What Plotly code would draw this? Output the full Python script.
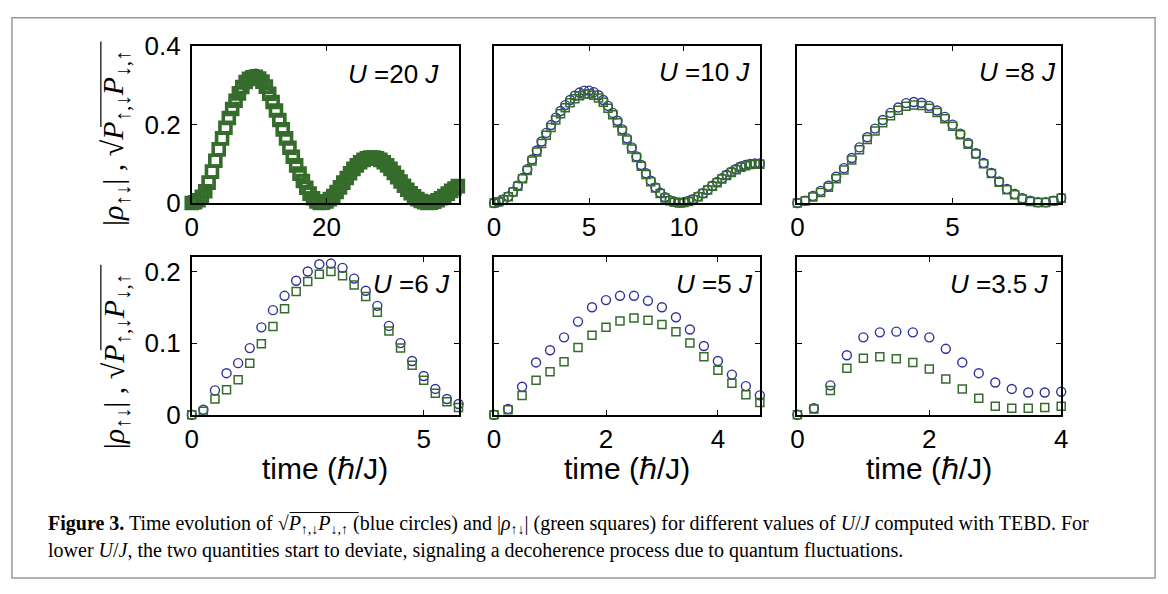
import plotly.graph_objects as go

W, H = 1168, 594

# ---------------- data ----------------
# U = 20 J  (dt = 0.5)
t20_step = 0.5
u20_sq = [0.000, 0.002, 0.007, 0.016, 0.030, 0.052, 0.080, 0.108, 0.137, 0.165,
          0.192, 0.217, 0.240, 0.261, 0.280, 0.296, 0.309, 0.317, 0.321, 0.322,
          0.318, 0.310, 0.297, 0.279, 0.258, 0.236, 0.212, 0.188, 0.165, 0.141,
          0.118, 0.096, 0.075, 0.056, 0.039, 0.024, 0.012, 0.004, 0.000, 0.001,
          0.004, 0.010, 0.018, 0.028, 0.040, 0.052, 0.064, 0.076, 0.087, 0.096,
          0.104, 0.110, 0.114, 0.116, 0.116, 0.114, 0.110, 0.104, 0.096, 0.087,
          0.077, 0.066, 0.055, 0.044, 0.034, 0.025, 0.017, 0.010, 0.005, 0.002,
          0.000, 0.001, 0.003, 0.007, 0.012, 0.018, 0.024, 0.031, 0.037, 0.043]
u20_ci = [0.000, 0.002, 0.007, 0.016, 0.030, 0.052, 0.080, 0.108, 0.137, 0.165,
          0.192, 0.217, 0.240, 0.261, 0.280, 0.297, 0.311, 0.320, 0.325, 0.326,
          0.322, 0.312, 0.298, 0.280, 0.259, 0.236, 0.212, 0.188, 0.165, 0.141,
          0.118, 0.096, 0.075, 0.056, 0.039, 0.024, 0.012, 0.004, 0.000, 0.001,
          0.004, 0.010, 0.018, 0.028, 0.040, 0.052, 0.064, 0.076, 0.087, 0.096,
          0.104, 0.110, 0.115, 0.117, 0.117, 0.115, 0.110, 0.104, 0.096, 0.087,
          0.077, 0.066, 0.055, 0.044, 0.034, 0.025, 0.017, 0.010, 0.005, 0.002,
          0.000, 0.001, 0.003, 0.007, 0.012, 0.018, 0.024, 0.031, 0.037, 0.043]

# U = 10 J  (dt = 0.25)
t10_step = 0.25
u10_ci = [0.000, 0.003, 0.009, 0.017, 0.029, 0.045, 0.064, 0.086,
          0.111, 0.134, 0.157, 0.179, 0.199, 0.218, 0.235, 0.250,
          0.263, 0.274, 0.282, 0.287, 0.287, 0.283, 0.275, 0.263,
          0.248, 0.230, 0.210, 0.188, 0.165, 0.142, 0.119, 0.097,
          0.076, 0.057, 0.040, 0.026, 0.015, 0.007, 0.003, 0.001,
          0.002, 0.005, 0.010, 0.017, 0.025, 0.034, 0.044, 0.054,
          0.063, 0.072, 0.080, 0.087, 0.093, 0.097, 0.100, 0.101, 0.101]
u10_sq = [0.000, 0.003, 0.008, 0.016, 0.028, 0.043, 0.062, 0.083,
          0.107, 0.130, 0.152, 0.173, 0.193, 0.212, 0.228, 0.243,
          0.256, 0.266, 0.274, 0.278, 0.279, 0.275, 0.268, 0.257,
          0.242, 0.225, 0.205, 0.184, 0.161, 0.138, 0.116, 0.094,
          0.073, 0.054, 0.038, 0.024, 0.013, 0.006, 0.002, 0.000,
          0.001, 0.004, 0.009, 0.016, 0.024, 0.033, 0.043, 0.052,
          0.061, 0.070, 0.078, 0.085, 0.091, 0.095, 0.098, 0.099, 0.099]

# U = 8 J  (dt = 0.25)
t8_step = 0.25
u8_ci = [0.000, 0.006, 0.018, 0.031, 0.044, 0.067, 0.089, 0.115, 0.142, 0.168,
         0.190, 0.212, 0.230, 0.244, 0.255, 0.258, 0.256, 0.248, 0.236, 0.220,
         0.200, 0.177, 0.153, 0.127, 0.102, 0.077, 0.055, 0.036, 0.023, 0.012,
         0.006, 0.002, 0.002, 0.006, 0.013]
u8_sq = [0.000, 0.005, 0.015, 0.027, 0.040, 0.062, 0.084, 0.110, 0.136, 0.162,
         0.184, 0.205, 0.223, 0.237, 0.247, 0.250, 0.249, 0.242, 0.231, 0.215,
         0.196, 0.174, 0.150, 0.125, 0.100, 0.075, 0.053, 0.034, 0.021, 0.010,
         0.004, 0.001, 0.001, 0.005, 0.012]

# U = 6 J  (dt = 0.25)
t6_step = 0.25
u6_ci = [0.000, 0.007, 0.034, 0.058, 0.072, 0.093, 0.122, 0.146, 0.166, 0.187,
         0.200, 0.210, 0.211, 0.205, 0.190, 0.173, 0.152, 0.124, 0.100, 0.075,
         0.054, 0.036, 0.022, 0.015]
u6_sq = [0.000, 0.005, 0.022, 0.035, 0.049, 0.072, 0.099, 0.123, 0.148, 0.172,
         0.186, 0.196, 0.200, 0.194, 0.181, 0.165, 0.143, 0.117, 0.093, 0.069,
         0.048, 0.030, 0.018, 0.010]

# U = 5 J  (dt = 0.25)
t5_step = 0.25
u5_ci = [0.000, 0.008, 0.039, 0.073, 0.090, 0.108, 0.130, 0.150, 0.160, 0.166,
         0.166, 0.159, 0.150, 0.136, 0.119, 0.096, 0.075, 0.056, 0.040, 0.027]
u5_sq = [0.000, 0.007, 0.027, 0.048, 0.060, 0.074, 0.094, 0.111, 0.122, 0.131,
         0.135, 0.132, 0.126, 0.116, 0.100, 0.081, 0.062, 0.044, 0.028, 0.017]

# U = 3.5 J  (dt = 0.25)
t35_step = 0.25
u35_ci = [0.000, 0.009, 0.041, 0.083, 0.108, 0.115, 0.116, 0.115, 0.108, 0.092,
          0.073, 0.058, 0.045, 0.036, 0.031, 0.031, 0.032]
u35_sq = [0.000, 0.008, 0.034, 0.065, 0.079, 0.081, 0.078, 0.073, 0.064, 0.050,
          0.036, 0.023, 0.012, 0.009, 0.009, 0.010, 0.012]

panel_labels = ["20", "10", "8", "6", "5", "3.5"]
x_ranges = [[0, 39.6], [0, 14], [0, 8.5], [0, 5.75], [0, 4.75], [0, 4]]
x_ticks = [[0, 20], [0, 5, 10], [0, 5], [0, 5], [0, 2, 4], [0, 2, 4]]
y_ticks_top = [0, 0.2, 0.4]
y_ticktext_top = ["0", "0.2", "0.4"]
y_ticks_bot = [0, 0.1, 0.2]
y_ticktext_bot = ["0", "0.1", "0.2"]

series = [
    (t20_step, u20_ci, u20_sq),
    (t10_step, u10_ci, u10_sq),
    (t8_step, u8_ci, u8_sq),
    (t6_step, u6_ci, u6_sq),
    (t5_step, u5_ci, u5_sq),
    (t35_step, u35_ci, u35_sq),
]

# ---------------- layout geometry (pixels) ----------------
col_px = [(187, 457), (493, 762), (800, 1067)]
row_px = [(33, 198), (255, 421)]

BLUE = "#30319a"
GREEN = "#356c2c"

fig = go.Figure()
for i, (dt, ci, sq) in enumerate(series):
    t_ci = [k * dt for k in range(len(ci))]
    t_sq = [k * dt for k in range(len(sq))]
    ax = "" if i == 0 else str(i + 1)
    big = i == 0
    fig.add_trace(go.Scatter(
        x=t_ci, y=ci, mode="markers", xaxis="x" + ax, yaxis="y" + ax,
        cliponaxis=False, showlegend=False,
        marker=dict(symbol="circle-open", size=12 if big else 9,
                    color=BLUE, line=dict(width=1.4, color=BLUE))))
    fig.add_trace(go.Scatter(
        x=t_sq, y=sq, mode="markers", xaxis="x" + ax, yaxis="y" + ax,
        cliponaxis=False, showlegend=False,
        marker=dict(symbol="square-open", size=11 if big else 8,
                    color=GREEN, line=dict(width=3.6 if big else 1.5, color=GREEN))))

TICKFONT = dict(family="Liberation Sans, Arial", size=26, color="black")
layout = dict(width=W, height=H, margin=dict(l=0, r=0, t=0, b=0),
              paper_bgcolor="white", plot_bgcolor="white", showlegend=False)

for i in range(6):
    r, c = divmod(i, 3)
    x0, x1 = col_px[c]
    y0, y1 = row_px[r]
    ax = "" if i == 0 else str(i + 1)
    xa = dict(domain=[x0 / W, x1 / W], range=x_ranges[i], anchor="y" + ax,
              tickvals=x_ticks[i], ticktext=[str(v) for v in x_ticks[i]],
              ticks="inside", ticklen=5, tickwidth=1.2, tickcolor="black",
              showline=True, linecolor="black", linewidth=1.8, mirror="ticks",
              showgrid=False, zeroline=False, tickfont=TICKFONT, ticklabelstandoff=0)
    if r == 0:
        yt, ytt, yr = y_ticks_top, y_ticktext_top, [0, 0.4]
    else:
        yt, ytt, yr = y_ticks_bot, y_ticktext_bot, [0, 0.22]
    ya = dict(domain=[1 - y1 / H, 1 - y0 / H], range=yr, anchor="x" + ax,
              tickvals=yt, ticktext=ytt, showticklabels=(c == 0),
              ticks="inside", ticklen=5, tickwidth=1.2, tickcolor="black",
              showline=True, linecolor="black", linewidth=1.8, mirror="ticks",
              showgrid=False, zeroline=False, tickfont=TICKFONT, ticklabelstandoff=4)
    layout["xaxis" + ax] = xa
    layout["yaxis" + ax] = ya

fig.update_layout(**layout)

ann = []
# panel labels
lab_pos = [(439, 62), (754, 60), (1064, 60), (450, 283), (757, 283), (1057, 283)]
for (px, py), u in zip(lab_pos, panel_labels):
    ann.append(dict(x=px / W, y=1 - py / H, xref="paper", yref="paper",
                    xanchor="right", yanchor="middle", showarrow=False,
                    text=f"<i>U</i> ={u} <i>J</i>",
                    font=dict(family="Liberation Sans, Arial", size=26, color="black")))
# x axis titles
for c, (x0, x1) in enumerate(col_px):
    ann.append(dict(x=(x0 + x1) / 2 / W, y=1 - 478 / H, xref="paper", yref="paper",
                    xanchor="center", yanchor="middle", showarrow=False,
                    text="time (ℏ/J)",
                    font=dict(family="Liberation Sans, Arial", size=30, color="black")))
# y axis titles
ylab = ("|<i>ρ</i><sub>↑↓</sub>| , √<i>P</i><sub>↑,↓</sub><i>P</i><sub>↓,↑</sub>")
for cy in (130, 365):
    ann.append(dict(x=110 / W, y=1 - cy / H, xref="paper", yref="paper",
                    xanchor="center", yanchor="middle", showarrow=False, textangle=-90,
                    text=ylab,
                    font=dict(family="Liberation Serif, DejaVu Serif", size=30, color="black")))
# caption
cap1 = ("<b>Figure 3.</b> Time evolution of √<i>P</i><sub>↑,↓</sub><i>P</i><sub>↓,↑</sub> (blue circles) and "
        "|<i>ρ</i><sub>↑↓</sub>| (green squares) for different values of <i>U</i>/<i>J</i> "
        "computed with TEBD. For")
cap2 = ("lower <i>U</i>/<i>J</i>, the two quantities start to deviate, signaling a decoherence "
        "process due to quantum fluctuations.")
for txt, cy in ((cap1, 537), (cap2, 564)):
    ann.append(dict(x=39 / W, y=1 - cy / H, xref="paper", yref="paper",
                    xanchor="left", yanchor="middle", showarrow=False, text=txt,
                    font=dict(family="Liberation Serif", size=20, color="black")))
fig.update_layout(annotations=ann)

shapes = [
    dict(type="rect", xref="paper", yref="paper", x0=5 / W, x1=1162 / W,
         y0=1 - 593 / H, y1=1 - 3 / H, line=dict(color="#9a9a9a", width=1.5)),
]
for ya0, ya1 in ((28, 118), (263, 353)):
    shapes.append(dict(type="line", xref="paper", yref="paper", x0=95 / W, x1=95 / W,
                       y0=1 - ya1 / H, y1=1 - ya0 / H, line=dict(color="black", width=1.2)))
# caption square-root overline
shapes.append(dict(type="line", xref="paper", yref="paper", x0=286 / W, x1=356 / W,
                   y0=1 - 524 / H, y1=1 - 524 / H, line=dict(color="black", width=1)))
fig.update_layout(shapes=shapes)

fig.write_html("out.html")
